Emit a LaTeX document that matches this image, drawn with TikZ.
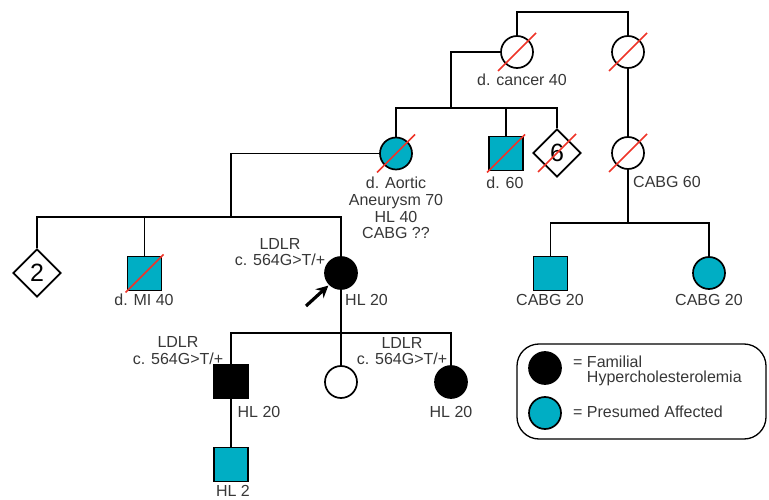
\documentclass[tikz,border=0pt]{standalone}
\usepackage{fontspec}
\setmainfont{Liberation Sans}
\usetikzlibrary{shapes.geometric,arrows.meta}
\definecolor{teal1}{RGB}{0,174,196}
\definecolor{slashred}{RGB}{238,52,40}
\definecolor{txt}{RGB}{55,55,55}
\newcommand\deadmark[1]{\draw[slash] ([shift={(-19,19)}]#1.center) -- ([shift={(19,-19)}]#1.center);}
\begin{document}
\begin{tikzpicture}[x=1pt,y=-1pt,
  person/.style={draw=black, line width=1.7pt, inner sep=0pt},
  fem/.style={person, circle, minimum size=32pt},
  mal/.style={person, rectangle, minimum size=34pt},
  unk/.style={person, diamond, aspect=1, minimum size=48pt, font=\fontsize{25}{25}\selectfont},
  aff/.style={fill=teal1},
  fh/.style={fill=black},
  lbl/.style={text=txt, font=\fontsize{16}{16.7}\selectfont, inner sep=0pt, align=center},
  link/.style={line width=1.7pt},
  slash/.style={draw=slashred, line width=1.5pt},
  legendbox/.style={draw=black, line width=1.3pt, rounded corners=22pt}]
\useasboundingbox (0,0) rectangle (769,500);

% generation I
\node[fem] (gm1) at (517,52) {};
\node[fem] (gm2) at (628,52) {};
% generation II
\node[fem,aff] (am) at (396,153.5) {};
\node[mal,aff] (u60) at (506,153.5) {};
\node[unk] (d6) at (557,153) {6};
\node[fem] (cg) at (628,153) {};
% generation III
\node[unk] (d2) at (37,273) {2};
\node[mal,aff] (mi) at (144.5,273.5) {};
\node[fem,fh] (pro) at (341,273) {};
\node[mal,aff] (c20a) at (550.5,273.5) {};
\node[fem,aff] (c20b) at (709,273) {};
% generation IV
\node[mal,fh] (son) at (231,381.5) {};
\node[fem] (dau1) at (341,382) {};
\node[fem,fh] (dau2) at (451,382) {};
% generation V
\node[mal,aff] (gson) at (231,464.5) {};

% junction points
\coordinate (s1) at (451,108);
\coordinate (s2) at (628,223);
\coordinate (s3) at (231,217);
\coordinate (s4) at (341,333);
\coordinate (arrtail) at (306,306);

% connectors
\draw[link] (gm1.north) -- ++(0,-23) -| (gm2.north);
\draw[link] (gm1.west) -| (s1);
\draw[link] (am.north) -- (am.north |- s1) -- (d6.north |- s1) -- (d6.north);
\draw[link] (u60.north) -- (u60.north |- s1);
\draw[link] (gm2.south) -- (cg.north);
\draw[link] (cg.south) -- (s2);
\draw[link] (c20a.north) -- (c20a.north |- s2) -- (c20b.north |- s2) -- (c20b.north);
\draw[link] (am.west) -| (s3);
\draw[link] (d2.north) -- (d2.north |- s3) -- (pro.north |- s3) -- (pro.north);
\draw[link] (mi.north) -- (mi.north |- s3);
\draw[link] (pro.south) -- (s4);
\draw[link] (son.north) -- (son.north |- s4) -- (dau2.north |- s4) -- (dau2.north);
\draw[link] (s4) -- (dau1.north);
\draw[link] (son.south) -- (gson.north);

% proband arrow
\draw[line width=3.2pt, -{Stealth[length=12pt,width=12pt]}, shorten >=1pt] (arrtail) -- (pro.south west);

% deceased marks
\deadmark{gm1}
\deadmark{gm2}
\deadmark{am}
\deadmark{u60}
\deadmark{d6}
\deadmark{cg}
\deadmark{mi}

% labels
\node[lbl] (lcancer) at (522,80) {d. cancer 40};
\node[lbl, anchor=west] (lcg) at (633,182) {CABG 60};
\node[lbl] (lam) at (396,208) {d. Aortic\\Aneurysm 70\\HL 40\\CABG ??};
\node[lbl] (lu60) at (505,183) {d. 60};
\node[lbl] (lmi) at (144,300) {d. MI 40};
\node[lbl, anchor=west] (lpro) at (345,300) {HL 20};
\node[lbl] (lprog) at (280,252) {LDLR\\c. 564G>T/+};
\node[lbl] (lc20a) at (550,300) {CABG 20};
\node[lbl] (lc20b) at (709,300) {CABG 20};
\node[lbl] (lsong) at (178,350.5) {LDLR\\c. 564G>T/+};
\node[lbl] (ldau2g) at (402,351) {LDLR\\c. 564G>T/+};
\node[lbl] (lson) at (259,412) {HL 20};
\node[lbl] (ldau2) at (451,412) {HL 20};
\node[lbl] (lgson) at (233,491) {HL 2};

% legend
\draw[legendbox] (517,344) rectangle (766,439);
\node[fem,fh] (legfh) at (545,368) {};
\node[fem,aff] (legaff) at (545,413) {};
\node[lbl, anchor=west, align=left, font=\fontsize{16}{15}\selectfont] (ltfh) at (573,370.5) {= Familial\\\phantom{= }Hypercholesterolemia};
\node[lbl, anchor=west] (ltaff) at (573,412) {= Presumed Affected};
\end{tikzpicture}
\end{document}
